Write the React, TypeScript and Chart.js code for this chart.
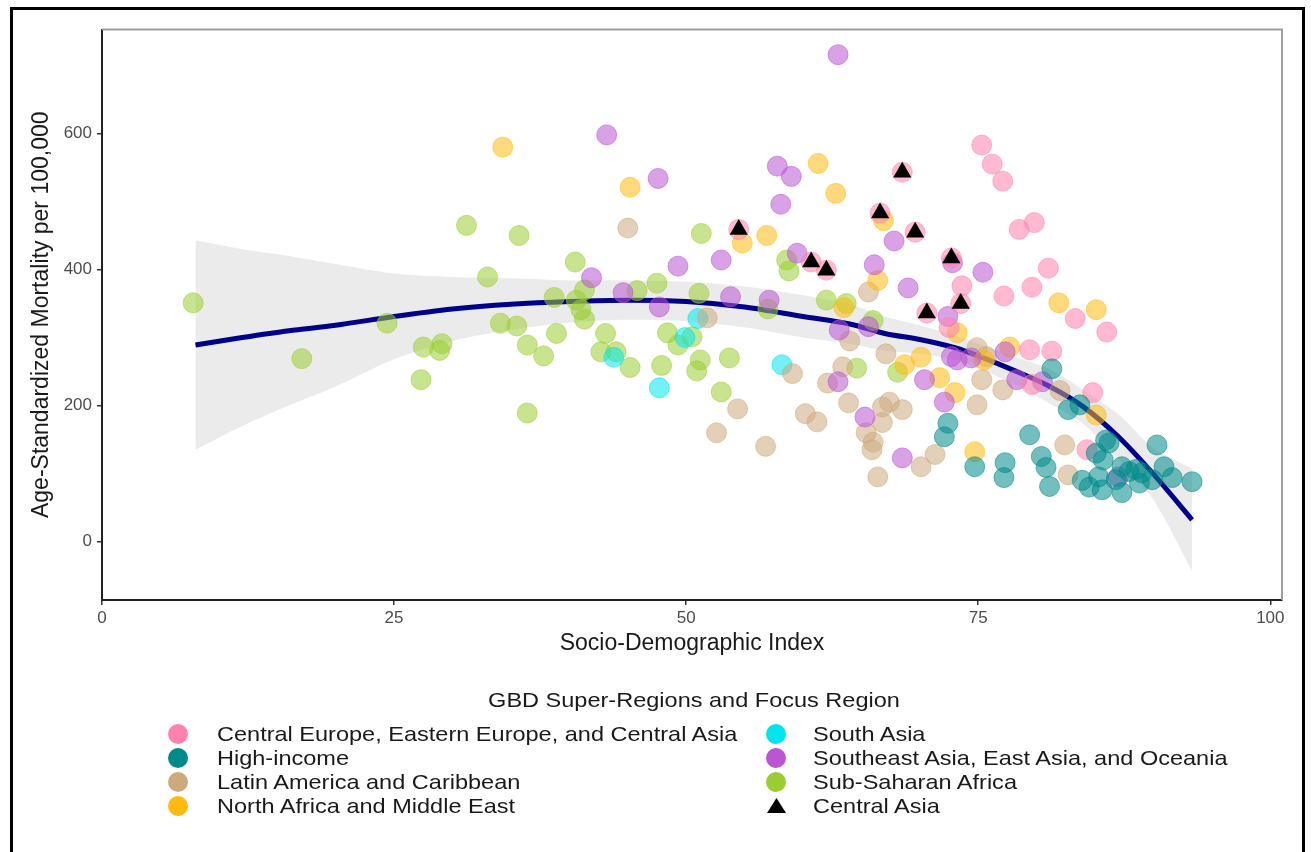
import React, { useEffect, useRef } from "react";
import { Chart, registerables } from "chart.js";

Chart.register(...registerables);

// ---------------- data ----------------
const xTicks = [0, 25, 50, 75, 100];
const yTicks = [0, 200, 400, 600];
const xLimits = [0, 101];
const yLimits = [-86, 753];

const xTitle = "Socio-Demographic Index";
const yTitle = "Age-Standardized Mortality per 100,000";
const legendTitle = "GBD Super-Regions and Focus Region";

const regionLabels = [
  "Central Europe, Eastern Europe, and Central Asia",
  "High-income",
  "Latin America and Caribbean",
  "North Africa and Middle East",
  "South Asia",
  "Southeast Asia, East Asia, and Oceania",
  "Sub-Saharan Africa",
  "Central Asia",
];

// [SDI, mortality]
const centralAsia: [number, number][] = [
  [54.5, 459], [60.7, 411], [62.0, 399], [66.6, 483], [68.5, 543],
  [69.6, 455], [70.6, 336], [72.7, 417], [73.5, 350],
];

const centralEuropeOther: [number, number][] = [
  [72.5, 315], [73.6, 376], [75.3, 583], [76.2, 555], [77.1, 530], [77.2, 361],
  [78.5, 459], [79.4, 282], [79.6, 374], [79.8, 469], [79.6, 231], [81.0, 402],
  [81.3, 280], [83.3, 328], [84.3, 135], [84.8, 219], [86.0, 308],
];

const highIncome: [number, number][] = [
  [72.1, 154], [72.4, 174], [74.7, 110], [77.2, 94], [77.3, 116], [79.4, 157],
  [80.4, 125], [80.8, 109], [81.1, 81], [81.3, 254], [82.7, 194], [83.7, 201],
  [83.9, 90], [84.5, 80], [85.1, 130], [85.3, 95], [85.6, 76], [85.7, 120],
  [85.9, 149], [86.2, 145], [86.8, 91], [87.3, 110], [87.3, 72], [87.9, 103],
  [88.5, 106], [88.8, 86], [89.0, 101], [89.9, 91], [90.3, 142], [90.9, 110],
  [91.6, 94], [93.3, 88],
];

const latinAmerica: [number, number][] = [
  [45.0, 461], [51.8, 329], [52.6, 160], [54.4, 195], [56.8, 140], [59.1, 247],
  [60.2, 188], [61.2, 176], [62.1, 233], [63.4, 257], [64.0, 295], [63.9, 204],
  [65.4, 160], [65.6, 367], [65.9, 135], [66.0, 146], [66.4, 95], [66.8, 175],
  [66.8, 198], [67.1, 276], [67.4, 205], [68.5, 194], [70.1, 110], [71.3, 128],
  [74.9, 201], [74.9, 285], [75.3, 238], [75.7, 272], [77.1, 223], [82.0, 222],
  [82.4, 142], [82.7, 98],
];

const northAfrica: [number, number][] = [
  [34.3, 580], [45.2, 521], [54.8, 439], [56.9, 450], [61.3, 556], [62.8, 512],
  [63.5, 344], [66.4, 384], [66.9, 472], [68.7, 260], [70.1, 271], [71.7, 241],
  [73.0, 219], [73.2, 307], [74.7, 132], [75.5, 267], [77.7, 286], [81.9, 351],
  [85.1, 341], [85.1, 186],
];

const southAsia: [number, number][] = [
  [43.8, 271], [47.7, 226], [49.9, 300], [51.0, 328], [58.2, 260],
];

const southeastAsia: [number, number][] = [
  [41.9, 388], [43.2, 598], [44.6, 366], [47.6, 534], [47.7, 345], [49.3, 405],
  [53.0, 414], [53.8, 360], [57.1, 355], [57.8, 552], [58.1, 496], [59.0, 537],
  [59.5, 424], [63.0, 716], [63.1, 311], [63.0, 235], [65.3, 183], [65.6, 316],
  [66.1, 407], [67.8, 442], [68.5, 123], [69.0, 373], [70.4, 238], [72.1, 205],
  [72.4, 331], [72.7, 272], [72.8, 410], [73.2, 267], [74.4, 270], [75.4, 396],
  [77.3, 279], [78.3, 238], [80.5, 235], [87.0, 95],
];

const subSaharan: [number, number][] = [
  [7.8, 351], [17.1, 269], [24.4, 321], [27.3, 238], [27.5, 286], [28.9, 281],
  [29.1, 291], [31.2, 465], [33.0, 389], [34.1, 321], [35.5, 317], [35.7, 450],
  [36.4, 289], [36.4, 189], [37.8, 273], [38.7, 359], [38.9, 306], [40.5, 411],
  [40.6, 355], [41.0, 341], [41.3, 370], [41.3, 327], [42.7, 279], [43.1, 306],
  [44.0, 279], [45.2, 256], [45.8, 369], [47.5, 380], [47.9, 259], [48.4, 307],
  [49.3, 289], [50.5, 301], [50.9, 251], [51.1, 365], [51.2, 267], [51.3, 453],
  [53.0, 220], [53.7, 270], [57.0, 342], [58.6, 414], [58.8, 398], [62.0, 355],
  [63.7, 350], [64.6, 255], [66.0, 325], [68.1, 249],
];

// loess fit with confidence band
const smoothSdi = [8, 12, 16, 20, 25, 30, 35, 40, 45, 50, 55, 60, 64, 67, 70, 73, 75, 78, 81, 84, 87, 90, 93.3];
const smoothFit = [289, 300, 310, 318, 331, 342, 349, 353, 355, 353, 345, 331, 320, 306, 297, 285, 273, 252, 229, 198, 154, 99, 32];
const smoothUpper = [443, 430, 420, 408, 394, 389, 387, 384, 384, 382, 375, 362, 349, 331, 318, 303, 291, 272, 254, 223, 187, 137, 107];
const smoothLower = [135, 170, 200, 228, 268, 295, 311, 322, 326, 324, 315, 300, 291, 281, 276, 267, 255, 232, 204, 173, 121, 61, -43];

// ---------------- styles ----------------
const FONT = '"Liberation Sans", Arial, Helvetica, sans-serif';
const regionColors = ["#FF82AB", "#008B8B", "#CDAA7D", "#FFB90F", "#00E5EE", "#BA55D3", "#9ACD32", "#000000"];
const POINT_ALPHA = 0.55;

function rgba(hex: string, a: number) {
  const n = parseInt(hex.slice(1), 16);
  return `rgba(${(n >> 16) & 255},${(n >> 8) & 255},${n & 255},${a})`;
}

const toXY = (arr: [number, number][]) => arr.map(([x, y]) => ({ x, y }));

const panelBorder = {
  id: "panelBorder",
  afterDraw(chart: any) {
    const { ctx, chartArea } = chart;
    const { left, top, right, bottom } = chartArea;
    ctx.save();
    ctx.strokeStyle = "#9E9E9E";
    ctx.lineWidth = 2;
    ctx.beginPath();
    ctx.moveTo(left, top);
    ctx.lineTo(right, top);
    ctx.lineTo(right, bottom);
    ctx.stroke();
    ctx.restore();
  },
};

export default function App() {
  const canvasRef = useRef<HTMLCanvasElement | null>(null);

  useEffect(() => {
    if (!canvasRef.current) return;

    const regionSeries: [number, number][][] = [
      [...centralEuropeOther, ...centralAsia],
      highIncome,
      latinAmerica,
      northAfrica,
      southAsia,
      southeastAsia,
      subSaharan,
    ];
    const drawOrder = [2, 1, 5, 4, 6, 3, 7];

    const scatterSets = regionSeries.map((pts, i) => ({
      type: "scatter" as const,
      label: regionLabels[i],
      data: toXY(pts),
      backgroundColor: rgba(regionColors[i], POINT_ALPHA),
      borderColor: rgba(regionColors[i], POINT_ALPHA),
      borderWidth: 1,
      pointRadius: 10,
      pointHoverRadius: 10,
      order: drawOrder[i],
    }));

    const chart = new Chart(canvasRef.current, {
      type: "scatter",
      data: {
        datasets: [
          {
            type: "line",
            label: "ci-lower",
            data: smoothSdi.map((x, i) => ({ x, y: smoothLower[i] })),
            borderWidth: 0,
            borderColor: "rgba(0,0,0,0)",
            pointRadius: 0,
            fill: false,
            tension: 0.3,
            order: 30,
          },
          {
            type: "line",
            label: "ci-upper",
            data: smoothSdi.map((x, i) => ({ x, y: smoothUpper[i] })),
            borderWidth: 0,
            borderColor: "rgba(0,0,0,0)",
            backgroundColor: "#EBEBEB",
            pointRadius: 0,
            fill: "-1",
            tension: 0.3,
            order: 29,
          },
          {
            type: "line",
            label: "fit",
            data: smoothSdi.map((x, i) => ({ x, y: smoothFit[i] })),
            borderColor: "#00008B",
            borderWidth: 5,
            pointRadius: 0,
            fill: false,
            tension: 0.3,
            order: 20,
          },
          ...scatterSets,
          {
            type: "scatter",
            label: regionLabels[7],
            data: toXY(centralAsia),
            pointStyle: "triangle",
            backgroundColor: "#000000",
            borderColor: "#000000",
            borderWidth: 0,
            pointRadius: 10.5,
            pointHoverRadius: 10.5,
            order: 0,
          },
        ] as any,
      },
      options: {
        responsive: false,
        animation: false,
        events: [],
        layout: { padding: { left: 0, top: 29.5, right: 29, bottom: 0 } },
        plugins: {
          legend: { display: false },
          tooltip: { enabled: false },
          title: { display: false },
        },
        scales: {
          x: {
            type: "linear",
            min: xLimits[0],
            max: xLimits[1],
            afterFit: (s: any) => { s.height = 252; },
            afterBuildTicks: (s: any) => { s.ticks = xTicks.map((v) => ({ value: v })); },
            grid: { display: true, drawOnChartArea: false, drawTicks: true, tickLength: 5, color: "#333333", lineWidth: 1.5 },
            border: { display: true, color: "#222222", width: 2 },
            ticks: { color: "#4D4D4D", font: { family: FONT, size: 17 }, padding: 3, maxRotation: 0, autoSkip: false },
            title: { display: true, text: xTitle, color: "#1A1A1A", font: { family: FONT, size: 23 }, padding: { top: 0, bottom: 195 } },
          },
          y: {
            type: "linear",
            min: yLimits[0],
            max: yLimits[1],
            afterFit: (s: any) => { s.width = 102; },
            afterBuildTicks: (s: any) => { s.ticks = yTicks.map((v) => ({ value: v })); },
            grid: { display: true, drawOnChartArea: false, drawTicks: true, tickLength: 5, color: "#333333", lineWidth: 1.5 },
            border: { display: true, color: "#222222", width: 2 },
            ticks: { color: "#4D4D4D", font: { family: FONT, size: 17 }, padding: 5, autoSkip: false },
            title: { display: true, text: yTitle, color: "#1A1A1A", font: { family: FONT, size: 23 }, padding: { top: 28, bottom: 0 } },
          },
        },
      } as any,
      plugins: [panelBorder],
    });

    return () => chart.destroy();
  }, []);

  const rowY = [733.5, 757.5, 781.5, 805.5];
  const colSymbolX = [178, 776];
  const colTextX = [217, 813];

  return (
    <div style={{ position: "fixed", left: 0, top: 0, width: 1311, height: 852, overflow: "hidden", background: "#fff" }}>
      <canvas ref={canvasRef} width={1311} height={852} style={{ position: "absolute", left: 0, top: 0, display: "block" }} />
      <div style={{ position: "absolute", left: 10, top: 7, width: 1295, height: 900, border: "3px solid #000", boxSizing: "border-box", pointerEvents: "none" }} />
      <div
        style={{
          position: "absolute", left: 694, top: 688, height: 24, lineHeight: "24px",
          fontFamily: FONT, fontSize: 21, color: "#1A1A1A", whiteSpace: "nowrap",
          transform: "translateX(-50%) scaleX(1.12)",
        }}
      >
        {legendTitle}
      </div>
      {regionLabels.map((label, i) => {
        const col = Math.floor(i / 4);
        const row = i % 4;
        const cy = rowY[row];
        const cx = colSymbolX[col];
        return (
          <React.Fragment key={label}>
            {i === 7 ? (
              <svg style={{ position: "absolute", left: cx - 9.5, top: cy - 8 }} width={19} height={15}>
                <polygon points="9.5,0 19,15 0,15" fill="#000" />
              </svg>
            ) : (
              <div style={{ position: "absolute", left: cx - 10, top: cy - 10, width: 20, height: 20, borderRadius: "50%", background: regionColors[i] }} />
            )}
            <div
              style={{
                position: "absolute", left: colTextX[col], top: cy - 12, height: 24, lineHeight: "24px",
                fontFamily: FONT, fontSize: 21, color: "#1A1A1A", whiteSpace: "nowrap",
                transform: "scaleX(1.12)", transformOrigin: "left center",
              }}
            >
              {label}
            </div>
          </React.Fragment>
        );
      })}
    </div>
  );
}
